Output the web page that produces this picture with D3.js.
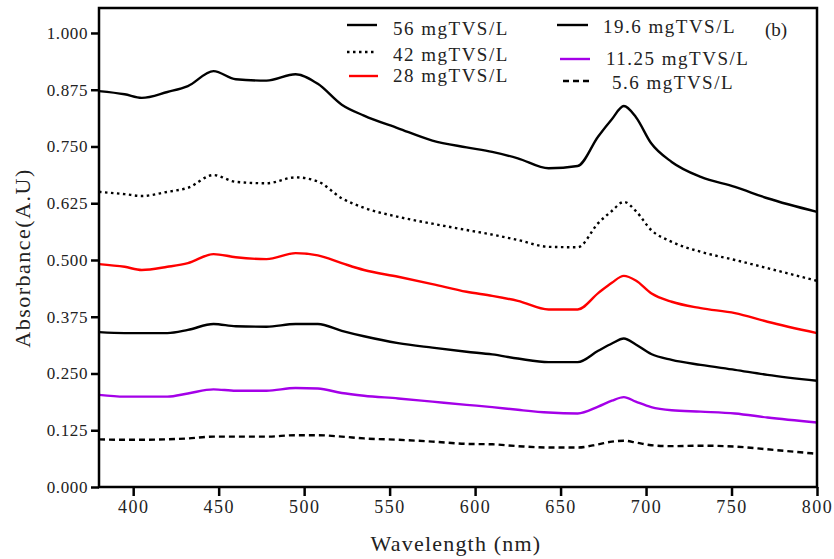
<!DOCTYPE html>
<html>
<head>
<meta charset="utf-8">
<script src="https://cdn.jsdelivr.net/npm/d3@7"></script>
<style>
  body { margin: 0; background: #fff; }
  svg { display: block; }
  text { font-family: "Liberation Serif", "Times New Roman", serif; fill: #222; }
</style>
</head>
<body>
<div id="chart"></div>
<script>
const wavelengths = [380, 395, 405, 420, 432, 447, 460, 478, 495, 508, 522, 535, 555, 575, 595,
    610, 625, 643, 660, 672, 680, 687, 694, 703, 715, 732, 752, 771, 800];

const s56 = [.872, .865, .857, .870, .883, .916, .898, .895, .909, .888, .842, .818, .790, .763, .748,
    .738, .724, .702, .707, .772, .810, .839, .815, .757, .716, .683, .661, .636, .606];
const s42 = [.650, .645, .641, .650, .659, .687, .672, .669, .682, .673, .636, .615, .595, .580, .566,
    .556, .544, .529, .528, .581, .608, .628, .608, .566, .540, .518, .500, .482, .454];
const s28 = [.491, .485, .478, .485, .493, .513, .506, .502, .515, .510, .493, .478, .463, .447, .430,
    .421, .410, .391, .391, .427, .450, .465, .455, .427, .408, .394, .383, .364, .339];
const s19 = [.341, .339, .339, .339, .346, .359, .354, .353, .359, .359, .344, .332, .317, .307, .298,
    .292, .283, .275, .275, .300, .316, .327, .314, .293, .280, .269, .258, .247, .234];
const s11 = [.203, .199, .199, .199, .206, .215, .212, .212, .218, .217, .207, .201, .195, .188, .181,
    .176, .170, .164, .162, .177, .190, .198, .188, .176, .169, .166, .162, .153, .142];
const s5 = [.105, .104, .104, .105, .107, .111, .111, .111, .114, .114, .111, .107, .104, .100, .095,
    .094, .090, .087, .087, .094, .100, .102, .098, .092, .090, .091, .089, .083, .073];

const seriesNames = ["56 mgTVS/L", "42 mgTVS/L", "28 mgTVS/L", "19.6 mgTVS/L", "11.25 mgTVS/L", "5.6 mgTVS/L"];
const xTicks = [400, 450, 500, 550, 600, 650, 700, 750, 800];
const yTicks = [0, 0.125, 0.25, 0.375, 0.5, 0.625, 0.75, 0.875, 1.0];

const width = 834, height = 559;
const margin = { top: 8, right: 17, bottom: 72, left: 99 };
const w = width - margin.left - margin.right;
const h = height - margin.top - margin.bottom;

const styles = [
    { color: "#000", dash: null },
    { color: "#000", dash: "2.5,3.5" },
    { color: "#ff0000", dash: null },
    { color: "#000", dash: null },
    { color: "#a400e8", dash: null },
    { color: "#000", dash: "6,4" }
];
const allSeries = [s56, s42, s28, s19, s11, s5];

const svg = d3.select("#chart").append("svg")
    .attr("width", width)
    .attr("height", height);

const g = svg.append("g").attr("transform", `translate(${margin.left},${margin.top})`);

const x = d3.scaleLinear().domain([380, 800]).range([0, w]);
const y = d3.scaleLinear().domain([0, 1.055]).range([h, 0]);

const line = d3.line()
    .x((d, i) => x(wavelengths[i]))
    .y(d => y(d))
    .curve(d3.curveMonotoneX);

g.selectAll(".series")
    .data(allSeries)
    .enter()
    .append("path")
        .attr("class", "series")
        .attr("d", d => line(d))
        .attr("fill", "none")
        .attr("stroke", (d, i) => styles[i].color)
        .attr("stroke-width", 2.4)
        .attr("stroke-dasharray", (d, i) => styles[i].dash);

// frame
g.append("rect")
    .attr("x", 0).attr("y", 0)
    .attr("width", w).attr("height", h)
    .attr("fill", "none")
    .attr("stroke", "#000")
    .attr("stroke-width", 2.5);

const xAxis = g.append("g")
    .attr("transform", `translate(0,${h})`)
    .call(d3.axisBottom(x).tickValues(xTicks).tickSize(9).tickPadding(4));
const yAxis = g.append("g")
    .call(d3.axisLeft(y).tickValues(yTicks).tickSize(8).tickPadding(3).tickFormat(d3.format(".3f")));

[xAxis, yAxis].forEach(a => {
    a.select(".domain").remove();
    a.selectAll(".tick line").attr("stroke", "#000").attr("stroke-width", 2.5);
    a.selectAll("text").attr("font-family", "Liberation Serif").attr("fill", "#222");
});
xAxis.selectAll("text").attr("font-size", 18).attr("letter-spacing", 1.5);
yAxis.selectAll("text").attr("font-size", 17).attr("letter-spacing", 0.6);

svg.append("text")
    .attr("x", 456).attr("y", 551)
    .attr("text-anchor", "middle")
    .attr("font-size", 22).attr("letter-spacing", 1.2)
    .text("Wavelength (nm)");

svg.append("text")
    .attr("transform", "translate(30,258) rotate(-90)")
    .attr("text-anchor", "middle")
    .attr("font-size", 22).attr("letter-spacing", 1.5)
    .text("Absorbance(A.U)");

// legend
const legendPos = [
    { x1: 347, x2: 377, y: 25, tx: 393, ty: 35 },
    { x1: 347, x2: 377, y: 52, tx: 393, ty: 61 },
    { x1: 349, x2: 378, y: 76, tx: 393, ty: 82 },
    { x1: 557, x2: 588, y: 25, tx: 603, ty: 33 },
    { x1: 560, x2: 590, y: 59, tx: 606, ty: 65 },
    { x1: 563, x2: 593, y: 81, tx: 612, ty: 89 }
];
const legend = svg.append("g").selectAll("g")
    .data(seriesNames)
    .enter()
    .append("g");
legend.append("line")
    .attr("x1", (d, i) => legendPos[i].x1)
    .attr("x2", (d, i) => legendPos[i].x2)
    .attr("y1", (d, i) => legendPos[i].y)
    .attr("y2", (d, i) => legendPos[i].y)
    .attr("stroke", (d, i) => styles[i].color)
    .attr("stroke-width", 2.4)
    .attr("stroke-dasharray", (d, i) => styles[i].dash);
legend.append("text")
    .attr("x", (d, i) => legendPos[i].tx)
    .attr("y", (d, i) => legendPos[i].ty)
    .attr("font-size", 19)
    .attr("letter-spacing", 1.5)
    .text(d => d);

svg.append("text")
    .attr("x", 765).attr("y", 36)
    .attr("font-size", 19)
    .text("(b)");
</script>
</body>
</html>
